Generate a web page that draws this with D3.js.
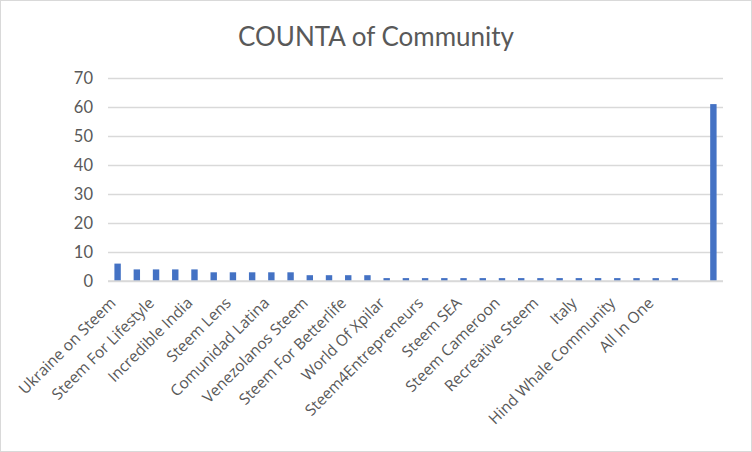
<!DOCTYPE html>
<html>
<head>
<meta charset="utf-8">
<script src="https://cdn.jsdelivr.net/npm/d3@7"></script>
<style>
  body { margin: 0; background: #fff; }
  svg { display: block; }
</style>
</head>
<body>
<div class="chart"></div>
<script>
// Categories in chart order; only every other name is printed on the axis
var categories = [
  "Ukraine on Steem", "", "Steem For Lifestyle", "", "Incredible India", "",
  "Steem Lens", "", "Comunidad Latina", "", "Venezolanos Steem", "",
  "Steem For Betterlife", "", "World Of Xpilar", "", "Steem4Entrepreneurs", "",
  "Steem SEA", "", "Steem Cameroon", "", "Recreative Steem", "",
  "Italy", "", "Hind Whale Community", "", "All In One", "", "", ""
];
var counts = [
  6, 4, 4, 4, 4, 3, 3, 3, 3, 3, 2, 2, 2, 2, 1, 1,
  1, 1, 1, 1, 1, 1, 1, 1, 1, 1, 1, 1, 1, 1, 0, 61
];
var yTicks = [0, 10, 20, 30, 40, 50, 60, 70];

var svgWidth = 752;
var svgHeight = 452;

var margin = { top: 78, right: 29, bottom: 171, left: 108 };
var width = svgWidth - margin.left - margin.right;
var height = svgHeight - margin.top - margin.bottom;

var svg = d3.select(".chart")
  .append("svg")
  .attr("width", svgWidth)
  .attr("height", svgHeight);

// outer chart border
svg.append("rect")
  .attr("x", 0.5).attr("y", 0.5)
  .attr("width", svgWidth - 1).attr("height", svgHeight - 1)
  .attr("fill", "#fff")
  .attr("stroke", "#d9d9d9");

svg.append("text")
  .attr("x", svgWidth / 2)
  .attr("y", 46)
  .attr("text-anchor", "middle")
  .style("font-family", "Lato, sans-serif")
  .style("font-size", "26px")
  .attr("fill", "#595959")
  .text("COUNTA of Community");

var chartGroup = svg.append("g")
  .attr("transform", `translate(${margin.left}, ${margin.top})`);

var xScale = d3.scaleBand()
  .domain(d3.range(categories.length))
  .range([0, width])
  .paddingInner(2 / 3)
  .paddingOuter(1 / 3);

var yScale = d3.scaleLinear()
  .domain([0, 70])
  .range([height, 0]);

// gridlines + y labels
var leftAxis = d3.axisLeft(yScale)
  .tickValues(yTicks)
  .tickSize(-width)
  .tickPadding(15);

var yAxis = chartGroup.append("g").call(leftAxis);
yAxis.select(".domain").remove();
yAxis.selectAll("line").attr("stroke", "#d9d9d9").attr("stroke-width", 1.5);
yAxis.selectAll("text")
  .attr("fill", "#595959")
  .style("font-family", "Lato, sans-serif")
  .style("font-size", "16.5px");

// bars
chartGroup.selectAll("rect.bar")
  .data(counts)
  .enter()
  .append("rect")
  .attr("class", "bar")
  .attr("x", (d, i) => xScale(i))
  .attr("y", d => yScale(d))
  .attr("width", xScale.bandwidth())
  .attr("height", d => height - yScale(d))
  .attr("fill", "#4472c4");

// baseline
chartGroup.append("line")
  .attr("x1", 0).attr("x2", width)
  .attr("y1", height).attr("y2", height)
  .attr("stroke", "#d9d9d9")
  .attr("stroke-width", 1.5);

// x labels, rotated
chartGroup.selectAll("text.xlab")
  .data(categories)
  .enter()
  .append("text")
  .attr("class", "xlab")
  .attr("text-anchor", "end")
  .attr("transform", (d, i) => `translate(${xScale(i) + xScale.bandwidth() / 2 - 1}, ${height + 23}) rotate(-45)`)
  .style("font-family", "'Open Sans', sans-serif")
  .style("font-size", "15.5px")
  .attr("fill", "#595959")
  .text(d => d);
</script>
</body>
</html>
